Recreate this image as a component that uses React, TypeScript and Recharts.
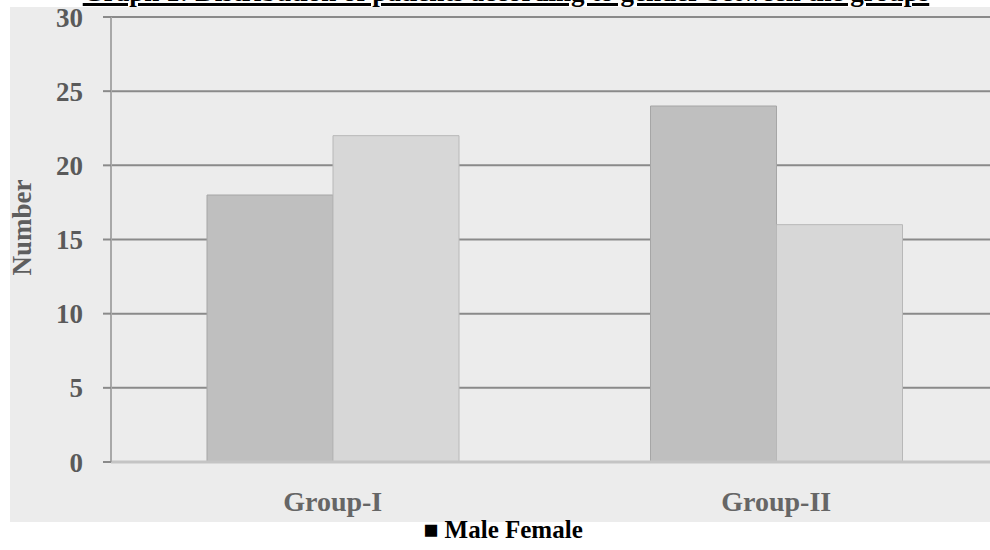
import React from 'react';
import { BarChart, Bar, XAxis, YAxis, CartesianGrid, Legend } from 'recharts';

const groups = ['Group-I', 'Group-II'];
const maleCounts = [18, 24];
const femaleCounts = [22, 16];
const yTicks = [0, 5, 10, 15, 20, 25, 30];
const seriesNames = ['Male', 'Female'];

const data = groups.map((g, i) => ({ group: g, male: maleCounts[i], female: femaleCounts[i] }));

const serif = '"Liberation Serif", "Times New Roman", serif';

// legend as in the source: one black square then the names
const LegendText = ({ payload }: any) => {
  const names = seriesNames.filter((n) => (payload || []).some((p: any) => p.value === n)).join(' ');
  return (
    <div style={{ height: 28, lineHeight: '16px', textAlign: 'center', fontFamily: serif, fontWeight: 700, fontSize: 25, color: '#000', paddingLeft: 8 }}>
      {'\u25A0 ' + names}
    </div>
  );
};

const YLabel = ({ viewBox }: any) => {
  const x = 22;
  const y = viewBox.y + viewBox.height / 2 - 12;
  return (
    <text x={x} y={y} transform={`rotate(-90, ${x}, ${y})`} textAnchor="middle" dominantBaseline="central"
      fontFamily={serif} fontWeight={700} fontSize={27} fill="#5e5e5e">
      Number
    </text>
  );
};

export default function App() {
  return (
    <div style={{ position: 'absolute', left: 0, top: 0, width: 990, height: 550, overflow: 'hidden', background: '#fff' }}>
      <div style={{ position: 'absolute', left: 10, top: 7, width: 980, height: 515, background: '#ececec' }} />
      <div style={{ position: 'absolute', left: 22, top: -21, width: 968, textAlign: 'center', fontFamily: serif, fontWeight: 700, fontSize: 27, lineHeight: '27px', textDecoration: 'underline', textDecorationThickness: 3, textUnderlineOffset: 2 }}>
        Graph 1: Distribution of patients according to gender between the groups
      </div>
      <div style={{ position: 'absolute', left: 0, top: 0 }}>
        <BarChart width={1000} height={550} data={data} margin={{ top: 17, right: 2, left: 0, bottom: 0 }}
          barGap={0} barSize={126}>
          <CartesianGrid horizontal vertical={false} stroke="#8a8a8a" strokeWidth={2} />
          <XAxis dataKey="group" height={60} axisLine={{ stroke: '#c4c4c4', strokeWidth: 3 }} tickLine={false}
            tickMargin={23} tick={{ fontFamily: serif, fontWeight: 700, fontSize: 28, fill: '#666' }} />
          <YAxis width={111} domain={[0, 30]} ticks={yTicks} interval={0} tickSize={8} tickMargin={20}
            axisLine={{ stroke: '#a8a8a8', strokeWidth: 2 }} tickLine={{ stroke: '#8a8a8a', strokeWidth: 2 }}
            tick={{ fontFamily: serif, fontWeight: 700, fontSize: 27, fill: '#5a5a5a' }}
            label={<YLabel />} />
          <Legend verticalAlign="bottom" content={<LegendText />} />
          <Bar dataKey="male" name={seriesNames[0]} fill="#bfbfbf" stroke="#a6a6a6" strokeWidth={1} isAnimationActive={false} />
          <Bar dataKey="female" name={seriesNames[1]} fill="#d7d7d7" stroke="#b8b8b8" strokeWidth={1} isAnimationActive={false} />
        </BarChart>
      </div>
    </div>
  );
}
